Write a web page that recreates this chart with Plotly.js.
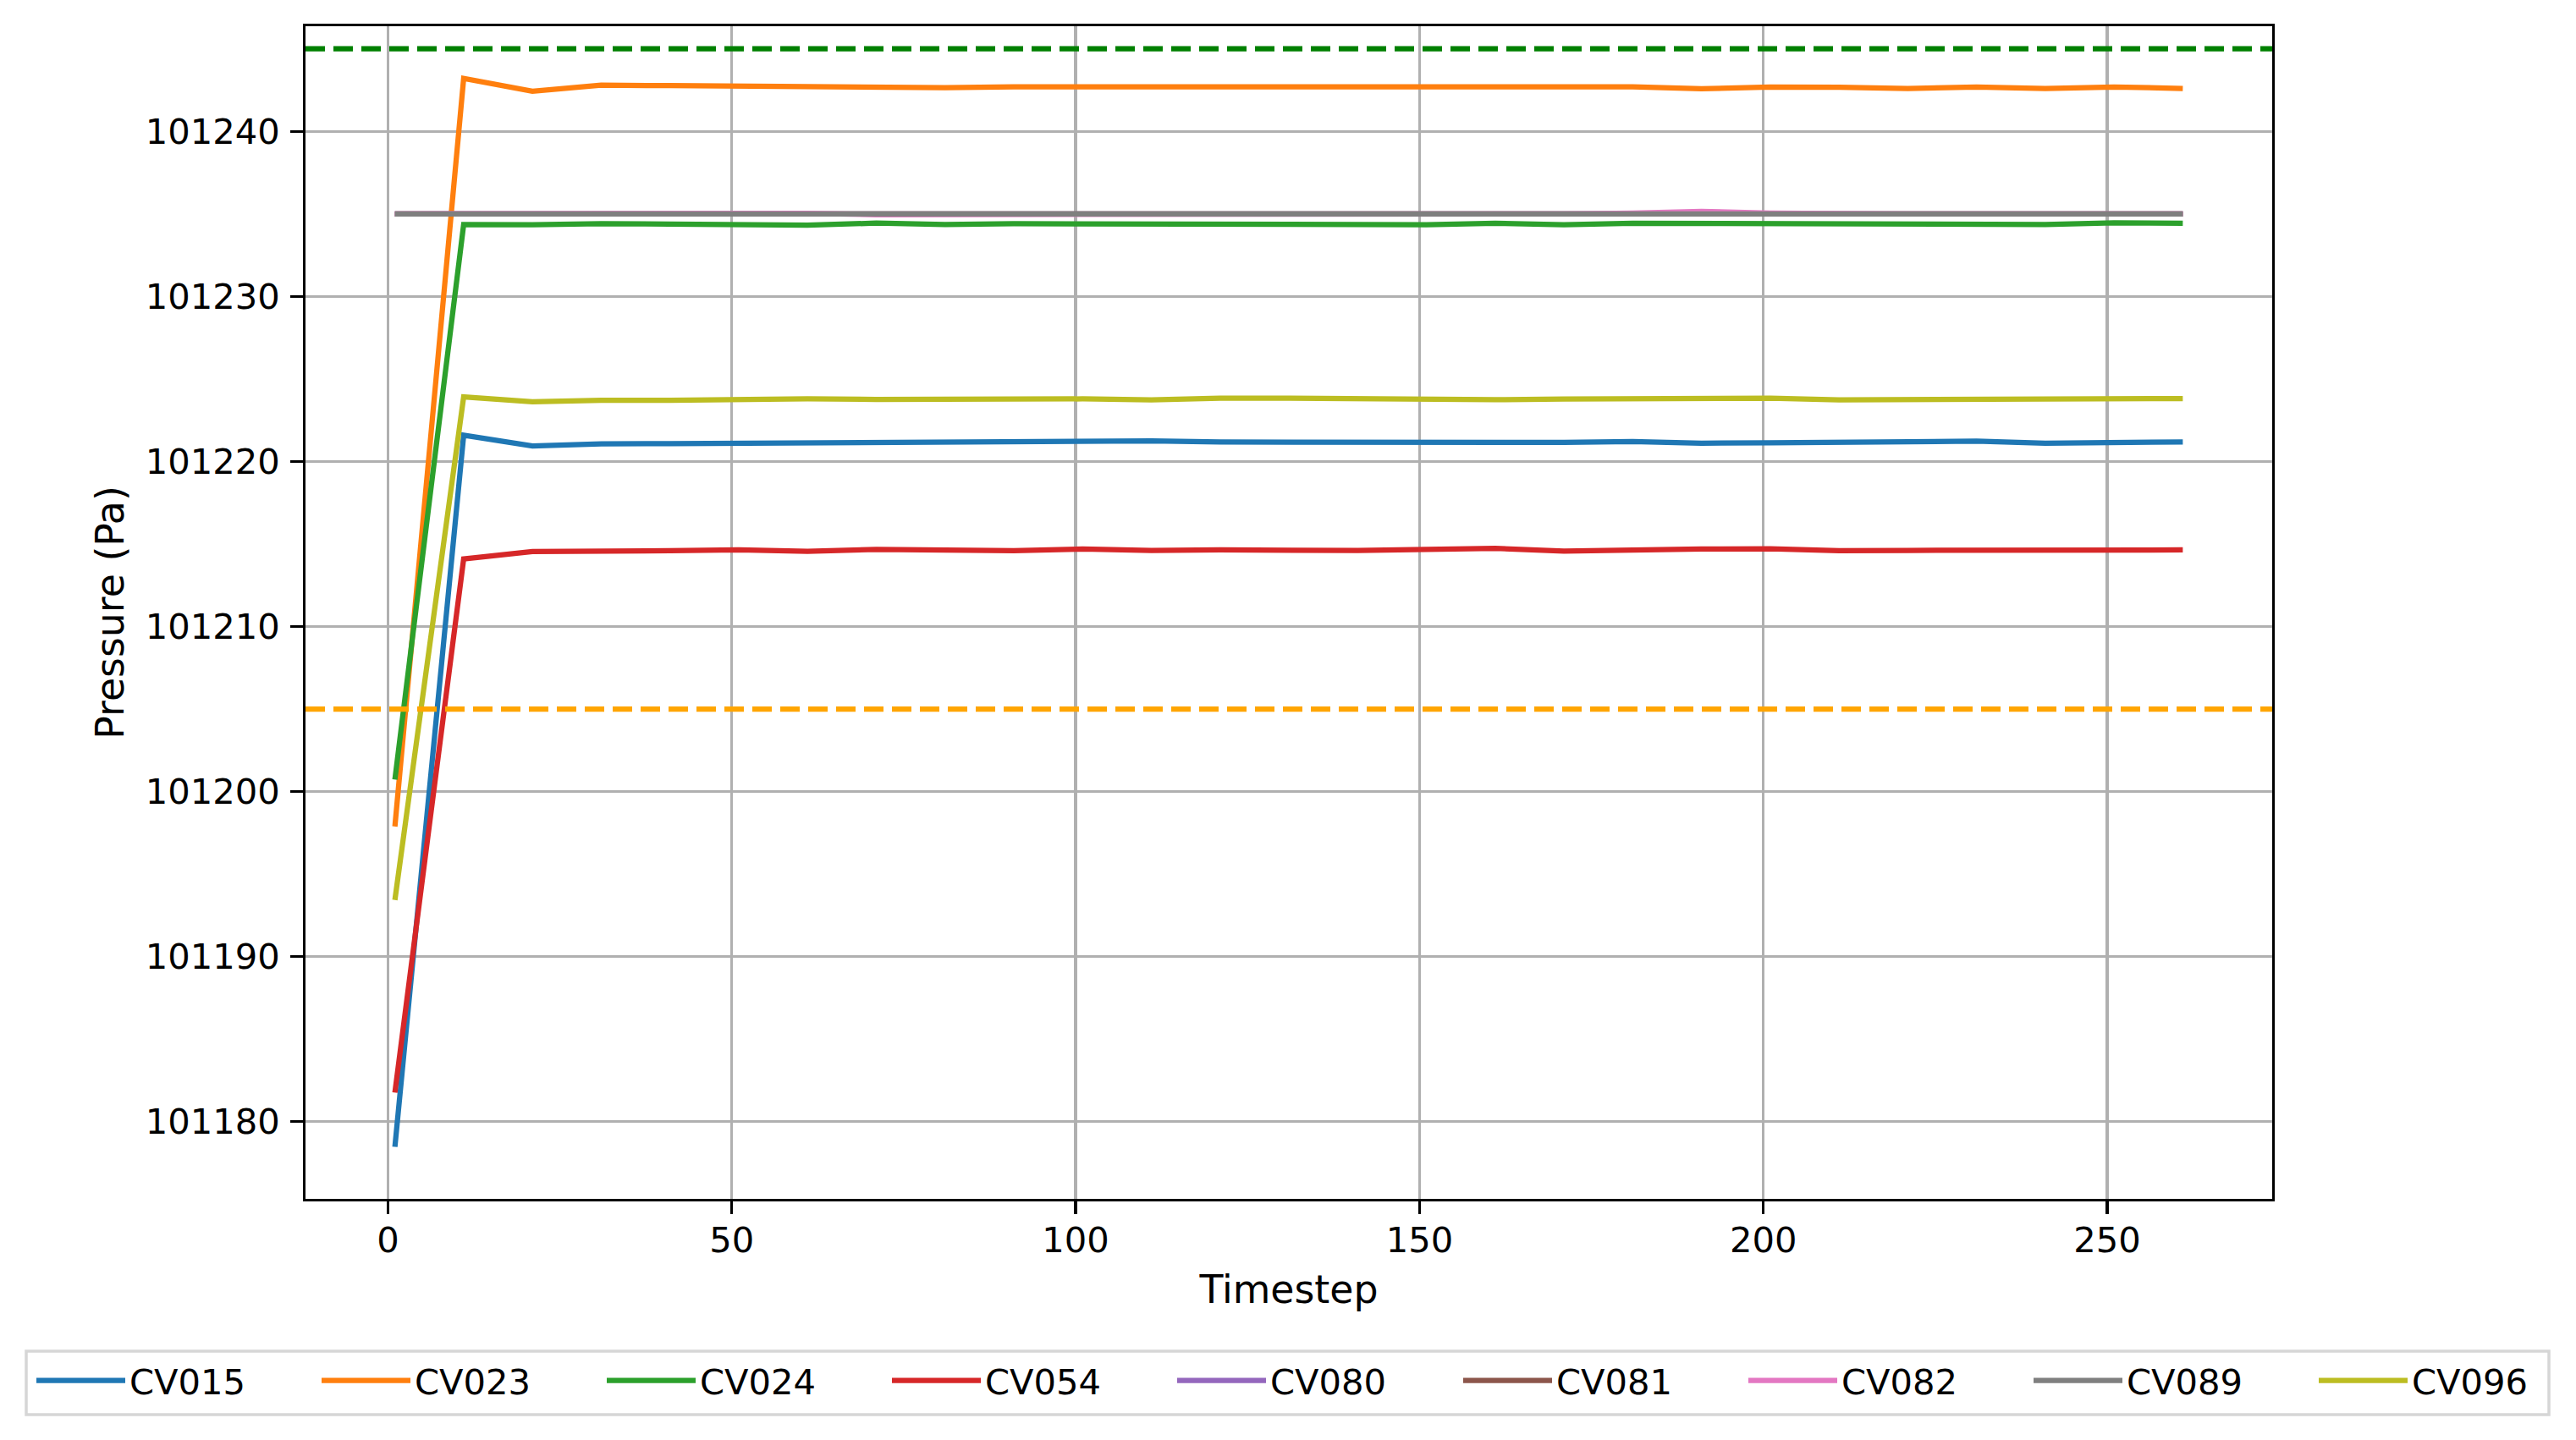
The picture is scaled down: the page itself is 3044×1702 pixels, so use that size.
<!DOCTYPE html>
<html>
<head>
<meta charset="utf-8">
<script src="https://cdn.plot.ly/plotly-3.0.1.min.js"></script>
<style>
  html, body { margin: 0; padding: 0; background: #ffffff; }
  #chart { width: 3044px; height: 1702px; }
</style>
</head>
<body>
<div id="chart"></div>
<script>
// ---- data ----
const timesteps = [1, 11, 21, 31, 41, 51, 61, 71, 81, 91, 101, 111, 121, 131, 141, 151, 161, 171, 181, 191, 201, 211, 221, 231, 241, 251, 261];

const seriesNames = ["CV015", "CV023", "CV024", "CV054", "CV080", "CV081", "CV082", "CV089", "CV096"];
const seriesColors = ["#1f77b4", "#ff7f0e", "#2ca02c", "#d62728", "#9467bd", "#8c564b", "#e377c2", "#7f7f7f", "#bcbd22"];

const CV015 = [101178.47, 101221.59, 101220.94, 101221.06, 101221.08, 101221.11, 101221.11, 101221.11, 101221.20, 101221.18, 101221.18, 101221.25, 101221.18, 101221.16, 101221.15, 101221.13, 101221.09, 101221.15, 101221.21, 101221.11, 101221.13, 101221.15, 101221.18, 101221.23, 101221.11, 101221.15, 101221.18];
const CV023 = [101197.88, 101243.21, 101242.43, 101242.80, 101242.77, 101242.74, 101242.70, 101242.70, 101242.65, 101242.70, 101242.70, 101242.70, 101242.68, 101242.65, 101242.62, 101242.65, 101242.70, 101242.63, 101242.70, 101242.58, 101242.68, 101242.67, 101242.60, 101242.69, 101242.60, 101242.69, 101242.60];
const CV024 = [101200.73, 101234.36, 101234.34, 101234.41, 101234.38, 101234.38, 101234.32, 101234.44, 101234.36, 101234.41, 101234.41, 101234.38, 101234.36, 101234.36, 101234.34, 101234.34, 101234.43, 101234.34, 101234.43, 101234.43, 101234.43, 101234.41, 101234.39, 101234.38, 101234.36, 101234.46, 101234.43];
const CV054 = [101181.76, 101214.09, 101214.54, 101214.54, 101214.59, 101214.64, 101214.55, 101214.67, 101214.59, 101214.59, 101214.69, 101214.61, 101214.64, 101214.61, 101214.61, 101214.67, 101214.73, 101214.57, 101214.66, 101214.69, 101214.71, 101214.59, 101214.61, 101214.62, 101214.64, 101214.66, 101214.64];
const CV080 = [101235.00, 101235.00, 101235.00, 101235.00, 101235.00, 101235.00, 101235.00, 101235.00, 101235.00, 101235.00, 101235.00, 101235.00, 101235.00, 101235.00, 101235.00, 101235.00, 101235.00, 101235.00, 101235.00, 101235.00, 101235.00, 101235.00, 101235.00, 101235.00, 101235.00, 101235.00, 101235.00];
const CV081 = [101235.00, 101235.00, 101235.00, 101235.00, 101235.00, 101235.00, 101235.00, 101235.00, 101235.00, 101235.00, 101235.00, 101235.00, 101235.00, 101235.00, 101235.00, 101235.00, 101235.00, 101235.00, 101234.95, 101234.95, 101234.95, 101235.00, 101235.00, 101235.00, 101235.00, 101235.00, 101235.00];
const CV082 = [101235.00, 101235.00, 101235.00, 101235.00, 101235.03, 101235.08, 101235.03, 101234.95, 101234.95, 101235.00, 101235.00, 101235.00, 101235.00, 101235.00, 101235.00, 101235.00, 101235.00, 101235.00, 101235.05, 101235.15, 101235.05, 101235.00, 101235.00, 101235.00, 101235.00, 101235.00, 101235.00];
const CV089 = [101235.00, 101235.00, 101235.02, 101235.02, 101235.02, 101234.94, 101235.00, 101235.00, 101235.00, 101235.00, 101235.00, 101235.00, 101235.00, 101235.00, 101235.00, 101235.00, 101235.00, 101235.00, 101235.00, 101235.00, 101235.00, 101235.00, 101235.00, 101235.00, 101235.00, 101235.00, 101235.00];
const CV096 = [101193.43, 101223.91, 101223.61, 101223.71, 101223.71, 101223.79, 101223.79, 101223.76, 101223.78, 101223.79, 101223.79, 101223.73, 101223.83, 101223.83, 101223.78, 101223.74, 101223.74, 101223.78, 101223.79, 101223.79, 101223.83, 101223.73, 101223.73, 101223.73, 101223.74, 101223.78, 101223.81];

const upperLimit = 101245;   // green dashed line
const lowerLimit = 101205;   // orange dashed line

const xTickVals = [0, 50, 100, 150, 200, 250];
const yTickVals = [101180, 101190, 101200, 101210, 101220, 101230, 101240];

// ---- figure ----
const seriesValues = [CV015, CV023, CV024, CV054, CV080, CV081, CV082, CV089, CV096];
const FONT = "DejaVu Sans";
const FS = 41.67;
const LW = 6.25;

const traces = seriesNames.map((name, i) => ({
  type: "scatter",
  mode: "lines",
  name: name,
  x: timesteps,
  y: seriesValues[i],
  line: { color: seriesColors[i], width: LW },
  legend: i < 5 ? "legend" : "legend2",
  hoverinfo: "skip"
}));

const L = 361, R = 359, T = 31, B = 285;
const W = 3044, H = 1702;
const pw = W - L - R, ph = H - T - B;
const px2x = p => (p - L) / pw;
const px2y = p => (H - B - p) / ph;

const legendCommon = {
  orientation: "h",
  xanchor: "left",
  yanchor: "top",
  y: px2y(1598),
  bgcolor: "rgba(0,0,0,0)",
  borderwidth: 0,
  font: { family: FONT, size: FS, color: "#000000" },
  itemwidth: 105,
  entrywidth: 217,
  entrywidthmode: "pixels",
  traceorder: "normal",
  itemclick: false,
  itemdoubleclick: false
};

const layout = {
  width: W,
  height: H,
  margin: { l: L, r: R, t: T, b: B, autoexpand: false },
  paper_bgcolor: "#ffffff",
  plot_bgcolor: "#ffffff",
  font: { family: FONT, size: FS, color: "#000000" },
  showlegend: true,
  legend: Object.assign({}, legendCommon, { x: px2x(38) }),
  legend2: Object.assign({}, legendCommon, { x: px2x(1724) }),
  xaxis: {
    range: [-12, 274],
    tickmode: "array",
    tickvals: xTickVals,
    ticktext: xTickVals.map(String),
    showgrid: true,
    gridcolor: "#b0b0b0",
    gridwidth: 3.33,
    zeroline: false,
    showline: true,
    linecolor: "#000000",
    linewidth: 3.33,
    mirror: true,
    ticks: "outside",
    ticklen: 14.58,
    tickwidth: 3.33,
    tickcolor: "#000000",
    ticklabelstandoff: -5,
    tickfont: { family: FONT, size: FS, color: "#000000" },
    title: { text: "Timestep", font: { family: FONT, size: 45.8, color: "#000000" }, standoff: 20 },
    automargin: false
  },
  yaxis: {
    range: [101175.32, 101246.37],
    tickmode: "array",
    tickvals: yTickVals,
    ticktext: yTickVals.map(String),
    showgrid: true,
    gridcolor: "#b0b0b0",
    gridwidth: 3.33,
    zeroline: false,
    showline: true,
    linecolor: "#000000",
    linewidth: 3.33,
    mirror: true,
    ticks: "outside",
    ticklen: 14.58,
    tickwidth: 3.33,
    tickcolor: "#000000",
    ticklabelstandoff: 4,
    tickfont: { family: FONT, size: FS, color: "#000000" },
    title: { text: "Pressure (Pa)", font: { family: FONT, size: 45.8, color: "#000000" }, standoff: 11 },
    automargin: false
  },
  shapes: [
    {
      type: "line", xref: "paper", x0: 0, x1: 1, yref: "y", y0: upperLimit, y1: upperLimit,
      line: { color: "#008000", width: LW, dash: "23px,10px" }, layer: "above"
    },
    {
      type: "line", xref: "paper", x0: 0, x1: 1, yref: "y", y0: lowerLimit, y1: lowerLimit,
      line: { color: "#ffa500", width: LW, dash: "23px,10px" }, layer: "above"
    },
    {
      type: "rect", xref: "paper", yref: "paper",
      x0: px2x(31), x1: px2x(3012), y0: px2y(1672), y1: px2y(1597),
      line: { color: "#d6d6d6", width: 3.5 }, fillcolor: "rgba(0,0,0,0)", layer: "below"
    }
  ]
};

Plotly.newPlot("chart", traces, layout, { displayModeBar: false, staticPlot: true });
</script>
</body>
</html>
